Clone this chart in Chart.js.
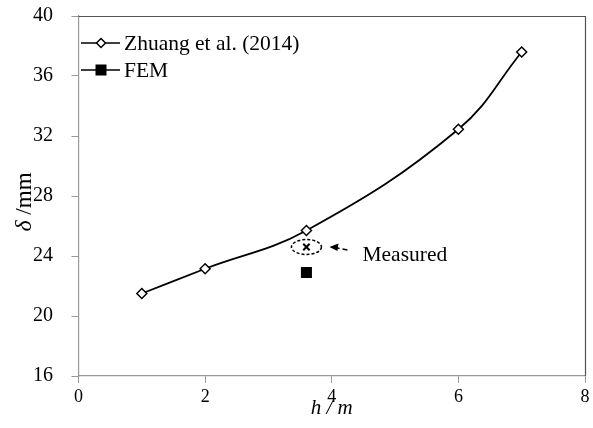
<!DOCTYPE html>
<html>
<head>
<meta charset="utf-8">
<script src="https://cdn.jsdelivr.net/npm/chart.js@4.4.1/dist/chart.umd.min.js"></script>
<style>
  html, body { margin: 0; padding: 0; background: #fff; }
  #wrap { width: 593px; height: 428px; }
</style>
</head>
<body>
<div id="wrap"><canvas id="myChart" width="593" height="428"></canvas></div>
<script>
// data
const hValues = [1, 2, 3.6, 6, 7];
const zhuangDelta = [21.5, 23.15, 25.7, 32.45, 37.6];
const femH = [3.6];
const femDelta = [22.9];
const measuredH = [3.6];
const measuredDelta = [24.6];

const xTicks = [0, 2, 4, 6, 8];
const yTicks = [16, 20, 24, 28, 32, 36, 40];

const legendLabels = ["Zhuang et al. (2014)", "FEM"];
const measuredLabel = "Measured";
const xTitle = "h / m";
const yTitleSymbol = "δ";
const yTitleUnit = " /mm";

const serif = "'Liberation Serif', 'Times New Roman', serif";

function toPoints(xs, ys) {
  return xs.map((x, i) => ({ x: x, y: ys[i] }));
}

function diamond(ctx, x, y, r) {
  ctx.beginPath();
  ctx.moveTo(x, y - r);
  ctx.lineTo(x + r, y);
  ctx.lineTo(x, y + r);
  ctx.lineTo(x - r, y);
  ctx.closePath();
  ctx.fillStyle = "#fff";
  ctx.fill();
  ctx.lineWidth = 1.5;
  ctx.strokeStyle = "#000";
  ctx.stroke();
}

const extras = {
  id: "extras",
  afterDatasetsDraw(chart) {
    const ctx = chart.ctx;
    const xs = chart.scales.x;
    const ys = chart.scales.y;
    const area = chart.chartArea;

    ctx.save();

    // box top + right
    ctx.strokeStyle = "#555";
    ctx.lineWidth = 1.2;
    ctx.beginPath();
    ctx.moveTo(area.left, area.top + 0.5);
    ctx.lineTo(area.right + 0.5, area.top + 0.5);
    ctx.lineTo(area.right + 0.5, area.bottom);
    ctx.stroke();

    // dashed ellipse round the measured point
    const mx = xs.getPixelForValue(measuredH[0]);
    const my = ys.getPixelForValue(measuredDelta[0]);
    ctx.setLineDash([3, 2]);
    ctx.lineWidth = 1.5;
    ctx.strokeStyle = "#000";
    ctx.beginPath();
    ctx.ellipse(mx, my, 15, 7.5, 0, 0, Math.PI * 2);
    ctx.stroke();

    // dashed arrow
    ctx.setLineDash([5, 3]);
    ctx.beginPath();
    ctx.moveTo(mx + 41, my + 3);
    ctx.lineTo(mx + 31, my + 1);
    ctx.stroke();
    ctx.setLineDash([]);
    ctx.beginPath();
    ctx.moveTo(mx + 23, my);
    ctx.lineTo(mx + 32, my - 3.5);
    ctx.lineTo(mx + 31, my + 4);
    ctx.closePath();
    ctx.fillStyle = "#000";
    ctx.fill();

    ctx.font = "21.5px " + serif;
    ctx.textBaseline = "middle";
    ctx.textAlign = "left";
    ctx.fillStyle = "#000";
    ctx.fillText(measuredLabel, mx + 56, my + 8);

    // legend
    const lx0 = 81, lx1 = 120, lmid = 101;
    const ly = [43, 70];
    ctx.lineWidth = 1.6;
    ctx.strokeStyle = "#000";
    ly.forEach((y, i) => {
      ctx.beginPath();
      ctx.moveTo(lx0, y);
      ctx.lineTo(lx1, y);
      ctx.stroke();
      if (i === 0) {
        diamond(ctx, lmid, y, 4.5);
      } else {
        ctx.fillStyle = "#000";
        ctx.fillRect(lmid - 5.5, y - 5.5, 11, 11);
      }
      ctx.fillStyle = "#000";
      ctx.font = "21.5px " + serif;
      ctx.fillText(legendLabels[i], 124, y + 1);
    });

    // axis titles
    ctx.textAlign = "center";
    ctx.font = "italic 21px " + serif;
    ctx.fillText(xTitle, (area.left + area.right) / 2, 408);

    ctx.translate(25, 202);
    ctx.rotate(-Math.PI / 2);
    ctx.textAlign = "left";
    ctx.font = "italic 24px " + serif;
    const w1 = ctx.measureText(yTitleSymbol).width;
    ctx.font = "23px " + serif;
    const w2 = ctx.measureText(yTitleUnit).width;
    const start = -(w1 + w2) / 2;
    ctx.font = "italic 24px " + serif;
    ctx.fillText(yTitleSymbol, start, 0);
    ctx.font = "23px " + serif;
    ctx.fillText(yTitleUnit, start + w1, 0);

    ctx.restore();
  },
};

new Chart(document.getElementById("myChart"), {
  type: "scatter",
  data: {
    datasets: [
      {
        label: legendLabels[0],
        data: toPoints(hValues, zhuangDelta),
        showLine: true,
        tension: 0.4,
        borderColor: "#000",
        borderWidth: 1.8,
        pointStyle: "rectRot",
        pointRadius: 5,
        pointBorderWidth: 1.5,
        pointBackgroundColor: "#fff",
        pointBorderColor: "#000",
      },
      {
        label: legendLabels[1],
        data: toPoints(femH, femDelta),
        pointStyle: "rect",
        pointRadius: 7.8,
        pointBackgroundColor: "#000",
        pointBorderColor: "#000",
        pointBorderWidth: 0,
      },
      {
        label: measuredLabel,
        data: toPoints(measuredH, measuredDelta),
        pointStyle: "crossRot",
        pointRadius: 4.5,
        pointBorderWidth: 2,
        pointBorderColor: "#000",
      },
    ],
  },
  options: {
    responsive: false,
    animation: false,
    devicePixelRatio: 1,
    layout: { padding: { top: 16, right: 8, left: 33, bottom: 0 } },
    plugins: {
      legend: { display: false },
      tooltip: { enabled: false },
    },
    scales: {
      x: {
        type: "linear",
        min: 0,
        max: 8,
        afterBuildTicks: (s) => { s.ticks = xTicks.map((v) => ({ value: v })); },
        afterFit: (s) => { s.height = 52; },
        grid: { drawOnChartArea: false, tickLength: 7, color: "#999", lineWidth: 1 },
        border: { color: "#999", width: 1.2 },
        ticks: {
          color: "#000",
          padding: 3,
          font: { family: serif, size: 18 },
        },
      },
      y: {
        type: "linear",
        min: 16,
        max: 40,
        afterBuildTicks: (s) => { s.ticks = yTicks.map((v) => ({ value: v })); },
        afterFit: (s) => { s.width = 45.5; },
        grid: { drawOnChartArea: false, tickLength: 7, color: "#999", lineWidth: 1 },
        border: { color: "#999", width: 1.2 },
        ticks: {
          color: "#000",
          padding: 3,
          crossAlign: "far",
          font: { family: serif, size: 20 },
        },
      },
    },
  },
  plugins: [extras],
});
</script>
</body>
</html>
